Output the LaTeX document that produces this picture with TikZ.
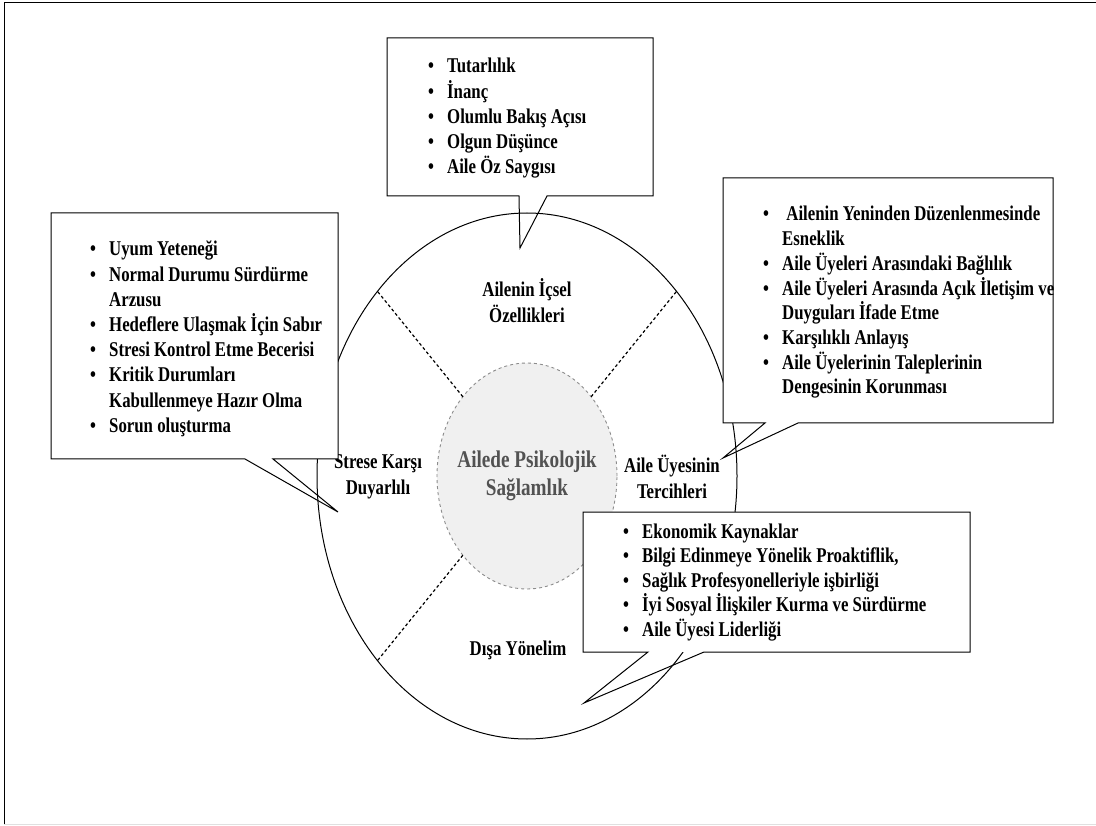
\documentclass[tikz,border=0pt]{standalone}
\usepackage{fontspec}
\setmainfont{Liberation Serif}[FakeStretch=0.8]
\usetikzlibrary{shapes.geometric}
\newcommand{\blt}{\makebox[19pt][l]{\textbullet}}
\newcommand{\cont}{\hspace*{19pt}}
\begin{document}
\begin{tikzpicture}[x=1pt,y=-1pt,
  frame/.style={line width=1pt},
  ring/.style={draw, ellipse, line width=1pt, inner sep=0pt, outer sep=0pt},
  core/.style={draw=black!45, fill=black!6, ellipse, dashed, line width=0.9pt, inner sep=0pt, outer sep=0pt},
  sep/.style={line width=1.2pt, dash pattern=on 3pt off 2.5pt},
  boxfill/.style={fill=white, inner sep=0pt, outer sep=0pt, anchor=north west},
  outline/.style={line width=1pt, line join=miter},
  lbl/.style={font=\fontsize{21}{26}\selectfont\bfseries, align=center, inner sep=0pt},
  corelbl/.style={font=\fontsize{24}{28}\selectfont\bfseries, align=center, inner sep=0pt, text=black!68},
  item/.style={font=\fontsize{21}{25}\selectfont\bfseries, anchor=base west, inner sep=0pt}]
\useasboundingbox (0,0) rectangle (1096,826);
% outer frame
\coordinate (f1) at (1096,3);
\coordinate (f2) at (4,3);
\coordinate (f3) at (4,824);
\coordinate (f4) at (1096,824);
\draw[frame] (f1) -- (f2) -- (f3);
\draw[black!12, line width=1pt] (f3) -- (f4);
% ellipses
\node[ring, minimum width=420pt, minimum height=526pt] (outer) at (527,476) {};
\node[core, minimum width=180pt, minimum height=226pt] (inner) at (527,476) {};
\foreach \a in {129,51,231} \draw[sep] (inner.\a) -- (outer.\a);
% labels
\node[lbl] (l1) at (527,301) {Ailenin İçsel\\Özellikleri};
\node[lbl] (l2) at (378,477) {Strese Karşı\\Duyarlılı};
\node[lbl] (l3) at (672,477) {Aile Üyesinin\\Tercihleri};
\node[lbl] (l4) at (518,650) {Dışa Yönelim};
\node[corelbl] (c) at (527,476) {Ailede Psikolojik\\Sağlamlık};
% top box
\node[boxfill, minimum width=266pt, minimum height=158pt] (b1) at (387,38) {};
\coordinate (b1l) at (519,196); \coordinate (b1r) at (547,196); \coordinate (b1t) at (520,248);
\draw[outline] (b1r) -- (b1.south east) -- (b1.north east) -- (b1.north west) -- (b1.south west) -- (b1l) -- (b1t) -- cycle;
\foreach \t [count=\i] in {Tutarlılık, İnanç, Olumlu Bakış Açısı, Olgun Düşünce, Aile Öz Saygısı}
  \node[item] (t\i) at (428,{73+25.2*(\i-1)}) {\blt\t};
% left box
\node[boxfill, minimum width=287pt, minimum height=246pt] (b2) at (51,213) {};
\coordinate (b2l) at (245,459); \coordinate (b2r) at (273,459); \coordinate (b2t) at (338,512);
\draw[outline] (b2r) -- (b2.south east) -- (b2.north east) -- (b2.north west) -- (b2.south west) -- (b2l) -- (b2t) -- cycle;
\foreach \t [count=\i] in {\blt Uyum Yeteneği, \blt Normal Durumu Sürdürme, \cont Arzusu, \blt Hedeflere Ulaşmak İçin Sabır, \blt Stresi Kontrol Etme Becerisi, \blt Kritik Durumları, \cont Kabullenmeye Hazır Olma, \blt Sorun oluşturma}
  \node[item] (s\i) at (90,{256+25.2*(\i-1)}) {\t};
% right box
\node[boxfill, minimum width=330pt, minimum height=245pt] (b3) at (723,178) {};
\coordinate (b3l) at (765,423); \coordinate (b3r) at (798,423); \coordinate (b3t) at (723,458);
\draw[outline] (b3r) -- (b3.south east) -- (b3.north east) -- (b3.north west) -- (b3.south west) -- (b3l) -- (b3t) -- cycle;
\foreach \t [count=\i] in {\blt\ Ailenin Yeninden Düzenlenmesinde, \cont Esneklik, \blt Aile Üyeleri Arasındaki Bağlılık, \blt Aile Üyeleri Arasında Açık İletişim ve, \cont Duyguları İfade Etme, \blt Karşılıklı Anlayış, \blt Aile Üyelerinin Taleplerinin, \cont Dengesinin Korunması}
  \node[item] (r\i) at (763,{221+24.7*(\i-1)}) {\t};
% bottom box
\node[boxfill, minimum width=387pt, minimum height=140pt] (b4) at (583,512) {};
\coordinate (b4l) at (648,652); \coordinate (b4r) at (704,652); \coordinate (b4t) at (584,703);
\draw[outline] (b4r) -- (b4.south east) -- (b4.north east) -- (b4.north west) -- (b4.south west) -- (b4l) -- (b4t) -- cycle;
\foreach \t [count=\i] in {Ekonomik Kaynaklar, {Bilgi Edinmeye Yönelik Proaktiflik,}, Sağlık Profesyonelleriyle işbirliği, İyi Sosyal İlişkiler Kurma ve Sürdürme, Aile Üyesi Liderliği}
  \node[item] (e\i) at (623,{538+24.5*(\i-1)}) {\blt\t};
\end{tikzpicture}
\end{document}
